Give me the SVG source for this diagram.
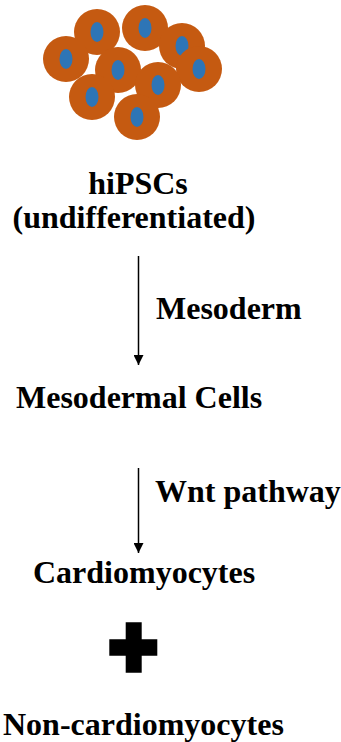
<svg xmlns="http://www.w3.org/2000/svg" width="341" height="742" viewBox="0 0 341 742">
  <style>
    .cell { fill: #C55A11; }
    .nuc { fill: #2E75B6; }
    .lbl { font-family: "Liberation Serif", "Times New Roman", serif; font-weight: bold; font-size: 32px; fill: #000; }
    .arrow { stroke: #000; stroke-width: 1.5; fill: none; marker-end: url(#head); }
  </style>
  <defs>
    <marker id="head" markerWidth="12" markerHeight="10" refX="10" refY="5" orient="auto" markerUnits="userSpaceOnUse">
      <path d="M0,0 L10,5 L0,10 Z" fill="#000"/>
    </marker>
  </defs>

  <!-- cluster of stem cells -->
  <g id="cells">
    <g id="cell-a"><circle class="cell" cx="97" cy="32" r="23"/><ellipse class="nuc" cx="97" cy="32" rx="6.5" ry="10"/></g>
    <g id="cell-c"><circle class="cell" cx="145" cy="28" r="23"/><ellipse class="nuc" cx="145" cy="28" rx="6.5" ry="10"/></g>
    <g id="cell-b"><circle class="cell" cx="66" cy="59" r="23"/><ellipse class="nuc" cx="66" cy="59" rx="6.5" ry="10"/></g>
    <g id="cell-d"><circle class="cell" cx="182" cy="46" r="23"/><ellipse class="nuc" cx="182" cy="46" rx="6.5" ry="10"/></g>
    <g id="cell-e"><circle class="cell" cx="199" cy="69" r="23"/><ellipse class="nuc" cx="199" cy="69" rx="6.5" ry="10"/></g>
    <g id="cell-f"><circle class="cell" cx="118" cy="70" r="23"/><ellipse class="nuc" cx="118" cy="70" rx="6.5" ry="10"/></g>
    <g id="cell-g"><circle class="cell" cx="92" cy="97" r="23"/><ellipse class="nuc" cx="92" cy="97" rx="6.5" ry="10"/></g>
    <g id="cell-h"><circle class="cell" cx="158" cy="85" r="23"/><ellipse class="nuc" cx="158" cy="85" rx="6.5" ry="10"/></g>
    <g id="cell-i"><circle class="cell" cx="137" cy="117" r="23"/><ellipse class="nuc" cx="137" cy="117" rx="6.5" ry="10"/></g>
  </g>

  <g id="node-hipsc">
    <text class="lbl" x="138" y="194" text-anchor="middle">hiPSCs</text>
    <text class="lbl" x="134" y="228" text-anchor="middle">(undifferentiated)</text>
  </g>
  <g id="node-mesodermal">
    <text class="lbl" x="16" y="408">Mesodermal Cells</text>
  </g>
  <g id="node-cardio">
    <text class="lbl" x="33" y="583">Cardiomyocytes</text>
  </g>
  <g id="node-plus">
    <path d="M125.7,622.3 H141.7 V639.3 H157.3 V655.7 H141.7 V672.7 H125.7 V655.7 H109.3 V639.3 H125.7 Z" fill="#000"/>
  </g>
  <g id="node-noncardio">
    <text class="lbl" x="3" y="735">Non-cardiomyocytes</text>
  </g>

  <g id="connectors">
    <line class="arrow" x1="138.5" y1="256" x2="138.5" y2="365"/>
    <text class="lbl" x="156" y="319">Mesoderm</text>
    <line class="arrow" x1="138.5" y1="468" x2="138.5" y2="553"/>
    <text class="lbl" x="155" y="502">Wnt pathway</text>
  </g>
</svg>
